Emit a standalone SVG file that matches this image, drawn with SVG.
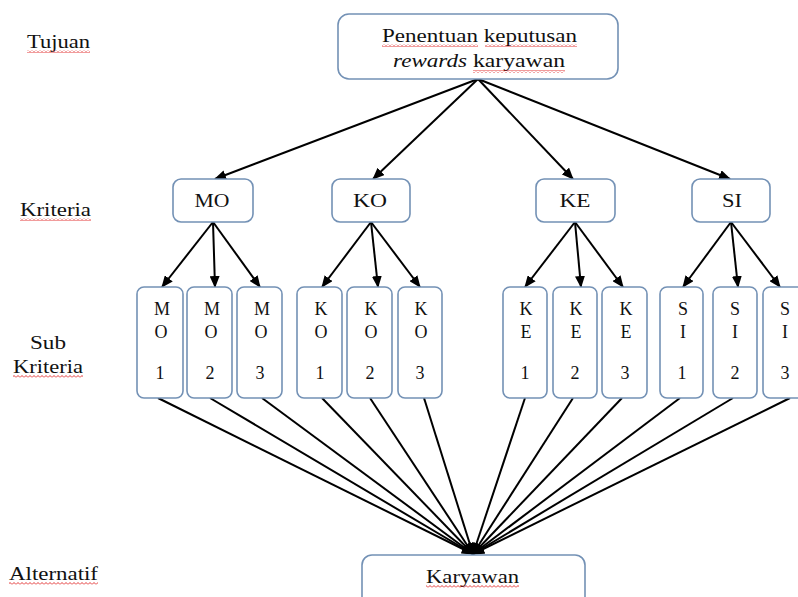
<svg xmlns="http://www.w3.org/2000/svg" width="798" height="597" viewBox="0 0 798 597">
<style>
.box{fill:#fff;stroke:#7391b5;stroke-width:1.6}
.t{font-family:"Liberation Serif","Times New Roman",serif;fill:#111}
.lbl{font-size:19px}
.mid{text-anchor:middle}
.sub{font-size:18px;text-anchor:middle}
.conn line{stroke:#000;stroke-width:2;marker-end:url(#ah)}
.wv{fill:url(#wave)}
</style>
<defs>
<marker id="ah" markerUnits="userSpaceOnUse" markerWidth="12" markerHeight="10" refX="11" refY="5" orient="auto">
<path d="M0,0 L12,5 L0,10 z" fill="#000"/>
</marker>
<pattern id="wave" patternUnits="userSpaceOnUse" width="4" height="3">
<path d="M0,2.5 L2,0.5 L4,2.5" fill="none" stroke="#e02020" stroke-width="0.9"/>
</pattern>
</defs>
<rect width="798" height="597" fill="#fff"/>

<g id="labels">
<text class="t lbl" x="27" y="48" textLength="63" lengthAdjust="spacingAndGlyphs">Tujuan</text>
<rect class="wv" x="27" y="50" width="63" height="3"/>
<text class="t lbl" x="20" y="216" textLength="71" lengthAdjust="spacingAndGlyphs">Kriteria</text>
<rect class="wv" x="20" y="218" width="71" height="3"/>
<text class="t lbl" x="30" y="349" textLength="36" lengthAdjust="spacingAndGlyphs">Sub</text>
<text class="t lbl" x="13" y="373" textLength="70" lengthAdjust="spacingAndGlyphs">Kriteria</text>
<rect class="wv" x="13" y="375" width="70" height="3"/>
<text class="t lbl" x="9" y="580" textLength="89" lengthAdjust="spacingAndGlyphs">Alternatif</text>
<rect class="wv" x="9" y="582" width="89" height="3"/>
</g>

<g class="conn" id="connectors">
<line x1="478" y1="79" x2="215" y2="179"/>
<line x1="478" y1="79" x2="373" y2="179"/>
<line x1="478" y1="79" x2="573" y2="179"/>
<line x1="478" y1="79" x2="730" y2="179"/>
<line x1="213" y1="222" x2="162" y2="287"/>
<line x1="213" y1="222" x2="215" y2="287"/>
<line x1="213" y1="222" x2="260" y2="287"/>
<line x1="371" y1="222" x2="322" y2="287"/>
<line x1="371" y1="222" x2="378" y2="287"/>
<line x1="371" y1="222" x2="420" y2="287"/>
<line x1="575" y1="222" x2="525" y2="287"/>
<line x1="575" y1="222" x2="581" y2="287"/>
<line x1="575" y1="222" x2="623" y2="287"/>
<line x1="731" y1="222" x2="683" y2="287"/>
<line x1="731" y1="222" x2="738" y2="287"/>
<line x1="731" y1="222" x2="780" y2="287"/>
<line x1="158" y1="398" x2="473" y2="554"/>
<line x1="210" y1="398" x2="473" y2="554"/>
<line x1="262" y1="398" x2="473" y2="554"/>
<line x1="322" y1="398" x2="473" y2="554"/>
<line x1="370" y1="398" x2="473" y2="554"/>
<line x1="424" y1="398" x2="473" y2="554"/>
<line x1="525" y1="398" x2="473" y2="554"/>
<line x1="573" y1="398" x2="473" y2="554"/>
<line x1="622" y1="398" x2="473" y2="554"/>
<line x1="680" y1="398" x2="473" y2="554"/>
<line x1="733" y1="398" x2="473" y2="554"/>
<line x1="790" y1="398" x2="473" y2="554"/>
</g>

<g id="goal">
<rect class="box" x="338" y="14" width="280" height="65" rx="11"/>
<text class="t" font-size="18" x="382" y="42" textLength="195" lengthAdjust="spacingAndGlyphs">Penentuan keputusan</text>
<rect class="wv" x="382" y="44" width="96" height="3"/>
<rect class="wv" x="485" y="44" width="92" height="3"/>
<text class="t" font-size="18" font-style="italic" x="393" y="67" textLength="74" lengthAdjust="spacingAndGlyphs">rewards</text>
<text class="t" font-size="18" x="473" y="67" textLength="92" lengthAdjust="spacingAndGlyphs">karyawan</text>
<rect class="wv" x="473" y="70" width="92" height="3"/>
</g>

<g id="MO"><rect class="box" x="173" y="179" width="80" height="43" rx="8"/><text class="t lbl mid" x="212" y="207" textLength="35" lengthAdjust="spacingAndGlyphs">MO</text></g>
<g id="KO"><rect class="box" x="332" y="179" width="78" height="43" rx="8"/><text class="t lbl mid" x="370" y="207" textLength="34" lengthAdjust="spacingAndGlyphs">KO</text></g>
<g id="KE"><rect class="box" x="536" y="179" width="79" height="43" rx="8"/><text class="t lbl mid" x="575" y="207" textLength="31" lengthAdjust="spacingAndGlyphs">KE</text></g>
<g id="SI"><rect class="box" x="692" y="179" width="78" height="43" rx="8"/><text class="t lbl mid" x="732" y="207" textLength="20" lengthAdjust="spacingAndGlyphs">SI</text></g>

<g id="MO1"><rect class="box" x="137" y="287" width="46" height="111" rx="7"/><text class="t sub" x="162" y="315">M</text><text class="t sub" x="161" y="338">O</text><text class="t sub" x="160" y="379">1</text></g>
<g id="MO2"><rect class="box" x="187" y="287" width="45" height="111" rx="7"/><text class="t sub" x="212" y="315">M</text><text class="t sub" x="211" y="338">O</text><text class="t sub" x="210" y="379">2</text></g>
<g id="MO3"><rect class="box" x="237" y="287" width="45" height="111" rx="7"/><text class="t sub" x="262" y="315">M</text><text class="t sub" x="261" y="338">O</text><text class="t sub" x="260" y="379">3</text></g>
<g id="KO1"><rect class="box" x="297" y="287" width="45" height="111" rx="7"/><text class="t sub" x="321" y="315">K</text><text class="t sub" x="321" y="338">O</text><text class="t sub" x="320" y="379">1</text></g>
<g id="KO2"><rect class="box" x="347" y="287" width="45" height="111" rx="7"/><text class="t sub" x="371" y="315">K</text><text class="t sub" x="371" y="338">O</text><text class="t sub" x="370" y="379">2</text></g>
<g id="KO3"><rect class="box" x="398" y="287" width="44" height="111" rx="7"/><text class="t sub" x="421" y="315">K</text><text class="t sub" x="421" y="338">O</text><text class="t sub" x="420" y="379">3</text></g>
<g id="KE1"><rect class="box" x="503" y="287" width="44" height="111" rx="7"/><text class="t sub" x="526" y="315">K</text><text class="t sub" x="526" y="338">E</text><text class="t sub" x="525" y="379">1</text></g>
<g id="KE2"><rect class="box" x="553" y="287" width="44" height="111" rx="7"/><text class="t sub" x="576" y="315">K</text><text class="t sub" x="576" y="338">E</text><text class="t sub" x="575" y="379">2</text></g>
<g id="KE3"><rect class="box" x="602" y="287" width="45" height="111" rx="7"/><text class="t sub" x="626" y="315">K</text><text class="t sub" x="626" y="338">E</text><text class="t sub" x="625" y="379">3</text></g>
<g id="SI1"><rect class="box" x="660" y="287" width="43" height="111" rx="7"/><text class="t sub" x="683" y="315">S</text><text class="t sub" x="683" y="338">I</text><text class="t sub" x="682" y="379">1</text></g>
<g id="SI2"><rect class="box" x="713" y="287" width="44" height="111" rx="7"/><text class="t sub" x="735" y="315">S</text><text class="t sub" x="735" y="338">I</text><text class="t sub" x="735" y="379">2</text></g>
<g id="SI3"><rect class="box" x="763" y="287" width="45" height="111" rx="7"/><text class="t sub" x="785" y="315">S</text><text class="t sub" x="785" y="338">I</text><text class="t sub" x="785" y="379">3</text></g>

<g id="Karyawan">
<rect class="box" x="362" y="555" width="223" height="60" rx="10"/>
<text class="t" font-size="19" x="426" y="583" textLength="93" lengthAdjust="spacingAndGlyphs">Karyawan</text>
<rect class="wv" x="426" y="585" width="93" height="3"/>
</g>
</svg>
